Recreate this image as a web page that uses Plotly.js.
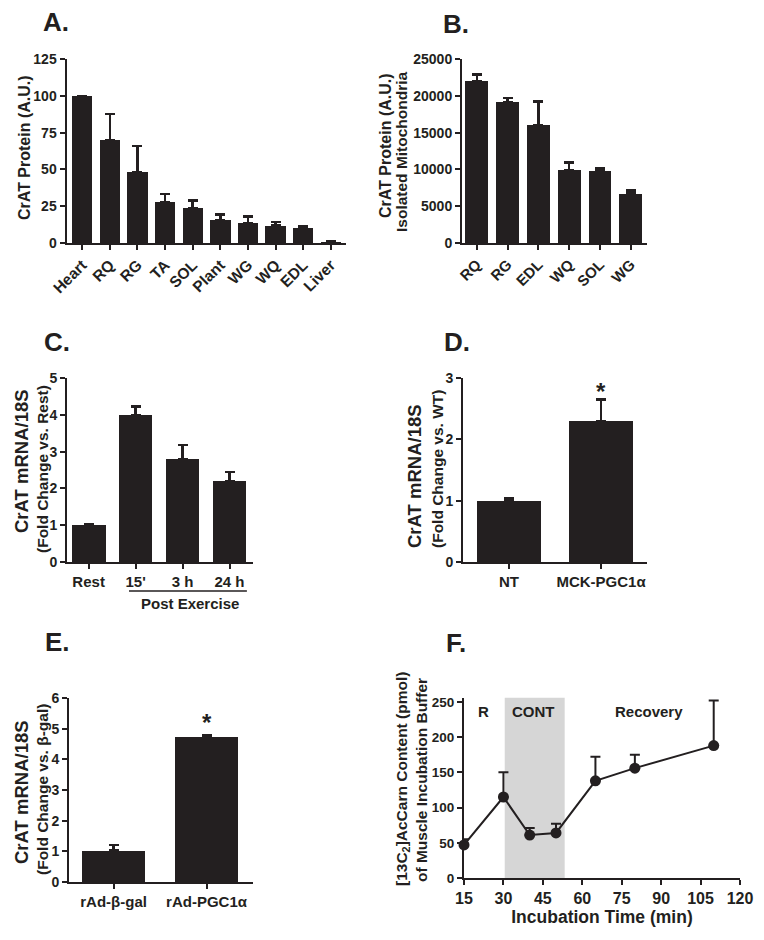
<!DOCTYPE html>
<html>
<head>
<meta charset="utf-8">
<script src="https://cdn.plot.ly/plotly-3.0.1.min.js"></script>
<style>html,body{margin:0;padding:0;background:#fff;}#chart{width:764px;height:940px;}</style>
</head>
<body>
<div id="chart"></div>
<script>
// ---------- DATA ----------
const catsA = ['Heart','RQ','RG','TA','SOL','Plant','WG','WQ','EDL','Liver'];
const meanA = [100, 70, 48, 28, 23.5, 15.5, 13.4, 11.8, 10, 1];
const semA  = [0, 17.5, 18, 5.3, 5.4, 4, 4.5, 2.5, 1.4, 0.5];

const catsB = ['RQ','RG','EDL','WQ','SOL','WG'];
const meanB = [22000, 19100, 16000, 9900, 9800, 6700];
const semB  = [900, 600, 3200, 1050, 350, 400];

const catsC = ['Rest',"15'",'3 h','24 h'];
const meanC = [1.0, 4.0, 2.8, 2.2];
const semC  = [0.03, 0.22, 0.38, 0.25];

const catsD = ['NT','MCK-PGC1α'];
const meanD = [1.0, 2.3];
const semD  = [0.04, 0.35];

const catsE = ['rAd-β-gal','rAd-PGC1α'];
const meanE = [1.02, 4.73];
const semE  = [0.18, 0.06];

const timeF = [15, 30, 40, 50, 65, 80, 110];
const meanF = [47, 115, 61, 64, 138, 156, 188];
const semF  = [8, 35, 10, 13, 34, 19, 64];
const contF = [30.5, 53.3];

// ---------- LAYOUT HELPERS ----------
const W = 764, H = 940;
const px = x => x / W;
const py = y => 1 - y / H;
const INK = '#231f20';
const FONT = 'Liberation Sans, Arial, sans-serif';
const f = (size) => ({family: FONT, size: size, color: INK, weight: 'bold'});
const zeros = n => new Array(n).fill(0);

function bar(cats, vals, errs, ax, width) {
  return {
    type: 'bar', x: cats, y: vals, xaxis: 'x' + ax, yaxis: 'y' + ax,
    width: width, marker: {color: INK, line: {width: 0}},
    error_y: {type: 'data', symmetric: false, array: errs, arrayminus: zeros(errs.length),
              color: INK, thickness: 2.5, width: 5},
    hoverinfo: 'none', showlegend: false, cliponaxis: false
  };
}

function axis(dom, anchor, extra) {
  return Object.assign({
    domain: dom, anchor: anchor, showline: true, linewidth: 2, linecolor: INK,
    ticks: 'outside', ticklen: 5, tickwidth: 2, tickcolor: INK,
    showgrid: false, zeroline: false, tickfont: f(14), fixedrange: true
  }, extra);
}

const traces = [
  bar(catsA, meanA, semA, '', 0.74),
  bar(catsB, meanB, semB, '2', 0.74),
  bar(catsC, meanC, semC, '3', 0.72),
  bar(catsD, meanD, semD, '4', 0.69),
  bar(catsE, meanE, semE, '5', 0.68),
  {
    type: 'scatter', mode: 'lines+markers', x: timeF, y: meanF, xaxis: 'x6', yaxis: 'y6',
    line: {color: INK, width: 2}, marker: {color: INK, size: 11},
    error_y: {type: 'data', symmetric: false, array: semF, arrayminus: zeros(semF.length),
              color: INK, thickness: 2, width: 5},
    cliponaxis: false, showlegend: false, hoverinfo: 'none'
  }
];

const layout = {
  width: W, height: H, margin: {l: 0, r: 0, t: 0, b: 0},
  paper_bgcolor: '#fff', plot_bgcolor: 'rgba(0,0,0,0)', showlegend: false,
  bargap: 0,
  // A
  xaxis:  axis([px(66.5), px(346)], 'y', {type: 'category', range: [-0.57, 9.55], tickangle: -45, tickfont: f(15.5)}),
  yaxis:  axis([py(243), py(59)], 'x', {range: [0, 125], dtick: 25}),
  // B
  xaxis2: axis([px(462), px(647)], 'y2', {type: 'category', range: [-0.48, 5.53], tickangle: -45, tickfont: f(15)}),
  yaxis2: axis([py(243), py(59)], 'x2', {range: [0, 25000], dtick: 5000, tickformat: 'd'}),
  // C
  xaxis3: axis([px(67), px(253)], 'y3', {type: 'category', range: [-0.46, 3.5], tickfont: f(15)}),
  yaxis3: axis([py(562), py(378)], 'x3', {range: [0, 5], dtick: 1}),
  // D
  xaxis4: axis([px(463), px(647)], 'y4', {type: 'category', range: [-0.5, 1.5], tickfont: f(15)}),
  yaxis4: axis([py(562), py(378)], 'x4', {range: [0, 3], dtick: 1}),
  // E
  xaxis5: axis([px(69), px(253)], 'y5', {type: 'category', range: [-0.48, 1.5], tickfont: f(15)}),
  yaxis5: axis([py(882), py(698)], 'x5', {range: [0, 6], dtick: 1}),
  // F
  xaxis6: axis([px(464), px(740)], 'y6', {range: [15, 120], tickvals: [15,30,45,60,75,90,105,120], tickfont: f(16),
            title: {text: 'Incubation Time (min)', font: f(17.5), standoff: 4}}),
  yaxis6: axis([py(878), py(697.7)], 'x6', {range: [0, 256], tickvals: [0,50,100,150,200,250], tickfont: f(13.5)}),
  shapes: [
    {type: 'rect', xref: 'x6', yref: 'y6 domain', x0: contF[0], x1: contF[1], y0: 0, y1: 1,
     fillcolor: '#d6d6d6', line: {width: 0}, layer: 'below'},
    {type: 'line', xref: 'x3', yref: 'paper', x0: 0.86, x1: 3.37, y0: py(591), y1: py(591),
     line: {color: INK, width: 1.5}}
  ],
  annotations: []
};

const ann = layout.annotations;
function label(t, x, y, size, extra) {
  ann.push(Object.assign({text: t, xref: 'paper', yref: 'paper', x: px(x), y: py(y),
    xanchor: 'center', yanchor: 'middle', showarrow: false, font: f(size)}, extra || {}));
}
function vlabel(t, x, y, size) { label(t, x, y, size, {textangle: -90}); }

// panel letters
label('A.', 56, 22, 26); label('B.', 456, 24, 26);
label('C.', 57, 342, 26); label('D.', 457, 342, 26);
label('E.', 57, 642, 26); label('F.', 456, 643, 26);

// y titles
vlabel('CrAT Protein (A.U.)', 24, 148, 16);
vlabel('CrAT Protein (A.U.)', 385, 146, 16);
vlabel('Isolated Mitochondria', 401, 152, 15.5);
vlabel('CrAT mRNA/18S', 22, 461, 18.5);
vlabel('(Fold Change vs. Rest)', 42, 469, 15.5);
vlabel('CrAT mRNA/18S', 415, 476, 18.5);
vlabel('(Fold Change vs. WT)', 437, 469, 15.5);
vlabel('CrAT mRNA/18S', 21, 792, 18.5);
vlabel('(Fold Change vs. β-gal)', 42, 790, 15.5);
vlabel('[13C<sub>2</sub>]AcCarn Content (pmol)', 402, 779, 15.5);
vlabel('of Muscle Incubation Buffer', 421, 780, 15.5);

// Post Exercise
ann.push({text: 'Post Exercise', xref: 'x3', yref: 'paper', x: 2.16, y: py(603),
  xanchor: 'center', yanchor: 'middle', showarrow: false, font: f(15)});

// asterisks
ann.push({text: '*', xref: 'x4', yref: 'y4', x: catsD[1], y: 2.78, xanchor: 'center', yanchor: 'middle',
  showarrow: false, font: f(24)});
ann.push({text: '*', xref: 'x5', yref: 'y5', x: catsE[1], y: 5.2, xanchor: 'center', yanchor: 'middle',
  showarrow: false, font: f(24)});

// F region labels
[['R', 22.5], ['CONT', 41.5], ['Recovery', 85.3]].forEach(([t, x]) => {
  ann.push({text: t, xref: 'x6', yref: 'y6', x: x, y: 236, xanchor: 'center', yanchor: 'middle',
    showarrow: false, font: f(15)});
});

Plotly.newPlot('chart', traces, layout, {staticPlot: true, displayModeBar: false});
</script>
</body>
</html>
